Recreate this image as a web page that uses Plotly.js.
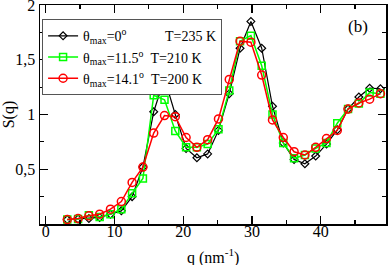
<!DOCTYPE html>
<html>
<head>
<meta charset="utf-8">
<script src="https://cdn.plot.ly/plotly-3.0.1.min.js"></script>
<style>html,body{margin:0;padding:0;background:#fff;}#chart{width:388px;height:265px;}</style>
</head>
<body>
<div id="chart"></div>
<script>
// q values (nm^-1)
var q = [3.14, 4.71, 6.28, 7.85, 9.42, 11.00, 12.57, 14.14, 15.71, 17.28,
         18.85, 20.42, 21.99, 23.56, 25.13, 26.70, 28.27, 29.85, 31.42, 32.99,
         34.56, 36.13, 37.70, 39.27, 40.84, 42.41, 43.98, 45.55, 47.12, 48.69];
// theta_max = 0 deg, T = 235 K
var s235 = [0.04, 0.045, 0.05, 0.06, 0.09, 0.12, 0.25, 0.52, 1.025, 1.33,
            1.00, 0.69, 0.605, 0.64, 0.855, 1.19, 1.605, 1.85, 1.605, 1.075,
            0.74, 0.59, 0.55, 0.62, 0.73, 0.86, 1.05, 1.16, 1.24, 1.235];
// theta_max = 11.5 deg, T = 210 K
var s210 = [0.04, 0.045, 0.08, 0.065, 0.09, 0.135, 0.28, 0.415, 1.175, 1.135,
            0.85, 0.70, 0.70, 0.73, 0.865, 1.22, 1.67, 1.72, 1.445, 1.00,
            0.74, 0.60, 0.63, 0.69, 0.74, 0.92, 1.05, 1.10, 1.20, 1.19];
// theta_max = 14.1 deg, T = 200 K
var s200 = [0.04, 0.05, 0.075, 0.09, 0.135, 0.205, 0.38, 0.52, 0.83, 0.99,
            0.98, 0.79, 0.70, 0.77, 0.96, 1.32, 1.67, 1.66, 1.36, 0.95,
            0.79, 0.66, 0.63, 0.70, 0.78, 0.855, 1.05, 1.105, 1.14, 1.19];

var NB = '\u00a0';
function pad(n) { var s = ''; for (var i = 0; i < n; i++) s += NB; return s; }
var names = ['θ<sub>max</sub>=0<sup>o</sup>' + pad(11) + 'T=235 K',
             'θ<sub>max</sub>=11.5<sup>o</sup>' + pad(2) + 'T=210 K',
             'θ<sub>max</sub>=14.1<sup>o</sup>' + pad(2) + 'T=200 K'];
var yTickVals = [0.5, 1, 1.5, 2];
var yTickText = ['0,5', '1', '1,5', '2'];
var xTitle = 'q (nm<sup>-1</sup>)';

var FONT = 'Liberation Serif, Times New Roman, serif';

var traces = [
  {x: q, y: s235, name: names[0], mode: 'lines+markers', type: 'scatter',
   line: {color: '#000000', width: 1.2},
   marker: {symbol: 'diamond-open', size: 6, color: '#000000', line: {width: 1.2}}},
  {x: q, y: s210, name: names[1], mode: 'lines+markers', type: 'scatter',
   line: {color: '#00ff00', width: 1.5},
   marker: {symbol: 'square-open', size: 7, color: '#00ff00', line: {width: 1.5}}},
  {x: q, y: s200, name: names[2], mode: 'lines+markers', type: 'scatter',
   line: {color: '#ff0000', width: 1.5},
   marker: {symbol: 'circle-open', size: 8, color: '#ff0000', line: {width: 1.5}}}
];

var layout = {
  width: 388, height: 265,
  margin: {l: 40, r: 2, t: 5, b: 41},
  paper_bgcolor: '#ffffff', plot_bgcolor: '#ffffff',
  font: {family: FONT, size: 16, color: '#000000'},
  showlegend: true,
  legend: {x: 0.006, y: 0.935, xanchor: 'left', yanchor: 'top',
           bgcolor: '#ffffff', bordercolor: '#555555', borderwidth: 1,
           font: {family: FONT, size: 14, color: '#000000'},
           tracegroupgap: 0, itemwidth: 30},
  xaxis: {range: [-0.83, 49.5], tickmode: 'linear', tick0: 0, dtick: 10,
          ticks: 'inside', ticklen: 8, tickwidth: 1.2, tickcolor: '#000',
          showline: true, linecolor: '#000', linewidth: 1.5, mirror: 'ticks',
          showgrid: false, zeroline: false, ticklabelstandoff: -8,
          tickfont: {family: FONT, size: 16},
          minor: {ticks: 'inside', dtick: 5, tick0: 0, ticklen: 4, tickwidth: 1.2, tickcolor: '#000', showgrid: false}},
  yaxis: {range: [0, 2], tickmode: 'array', tickvals: yTickVals, ticktext: yTickText,
          ticks: 'inside', ticklen: 8, tickwidth: 1.2, tickcolor: '#000',
          showline: true, linecolor: '#000', linewidth: 1.5, mirror: 'ticks',
          showgrid: false, zeroline: false, ticklabeloverflow: 'allow',
          tickfont: {family: FONT, size: 16},
          minor: {ticks: 'inside', tickmode: 'linear', dtick: 0.25, tick0: 0, ticklen: 4, tickwidth: 1.2, tickcolor: '#000', showgrid: false},
          title: {text: 'S(q)', font: {family: FONT, size: 16}, standoff: 6}},
  annotations: [
    {xref: 'paper', yref: 'paper', x: 0.918, y: 0.9, xanchor: 'center', yanchor: 'middle',
     text: '(b)', showarrow: false, font: {family: FONT, size: 17, color: '#000'}},
    {xref: 'paper', yref: 'paper', x: 0.5, y: -0.148, xanchor: 'center', yanchor: 'middle',
     text: xTitle, showarrow: false, font: {family: FONT, size: 16, color: '#000'}}
  ]
};

Plotly.newPlot('chart', traces, layout, {displayModeBar: false, staticPlot: true});
</script>
</body>
</html>
